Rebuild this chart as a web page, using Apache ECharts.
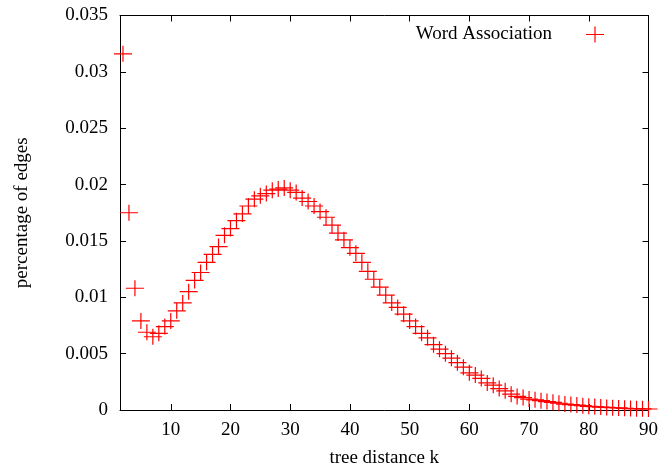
<!DOCTYPE html>
<html>
<head>
<meta charset="utf-8">
<script src="https://cdn.jsdelivr.net/npm/echarts@6/dist/echarts.min.js"></script>
<style>
html,body{margin:0;padding:0;background:#fff;}
#chart{width:661px;height:473px;}
</style>
</head>
<body>
<div id="chart"></div>
<script>
// tree distance k
const distances = [2,3,4,5,6,7,8,9,10,11,12,13,14,15,16,17,18,19,20,21,22,23,24,25,26,27,28,29,30,
  31,32,33,34,35,36,37,38,39,40,41,42,43,44,45,46,47,48,49,50,51,52,53,54,55,56,57,58,59,60,
  61,62,63,64,65,66,67,68,69,70,71,72,73,74,75,76,77,78,79,80,81,82,83,84,85,86,87,88,89,90];
// percentage of edges (Word Association)
const wordAssociation = [0.0316,0.0175,0.0108,0.0079,0.0069,0.0065,0.0068,0.0074,0.0079,0.0088,
  0.0095,0.0105,0.0115,0.0122,0.0131,0.0138,0.0145,0.0155,0.0161,0.0168,
  0.0174,0.0181,0.0187,0.0190,0.0192,0.0195,0.0196,0.0197,0.0195,0.0193,
  0.0188,0.0185,0.0181,0.0176,0.0171,0.0164,0.0157,0.0151,0.0144,0.0139,
  0.0131,0.0123,0.0116,0.0109,0.0102,0.0095,0.0091,0.0085,0.0079,0.0074,
  0.0068,0.0064,0.0058,0.0054,0.0050,0.0046,0.0042,0.0038,0.0033,0.0031,
  0.0028,0.0024,0.0022,0.0019,0.0017,0.0014,0.0012,0.0011,0.00097,0.0009,
  0.00083,0.00075,0.00068,0.0006,0.00053,0.00048,0.00044,0.00038,0.00033,0.0003,
  0.00026,0.00023,0.0002,0.00018,0.00015,0.00013,0.00012,0.0001,0.00009];
const xTicks = [10,20,30,40,50,60,70,80,90];
const seriesName = 'Word Association';

const chart = echarts.init(document.getElementById('chart'), null, {renderer:'canvas'});
const FONT = 'Liberation Serif';
const FS = 19;
const plus = 'path://M0,7.4H18V8.6H0Z M8.4,0H9.6V16H8.4Z';
const pts = distances.map((k,i)=>[k, wordAssociation[i]]);

const xBase = {
  type:'value', min:1.5, max:90,
  splitLine:{show:false},
  axisLine:{show:true, onZero:false, lineStyle:{color:'#000', width:1}},
  axisTick:{show:true, inside:true, length:6, customValues:xTicks, lineStyle:{color:'#000'}},
};
const yBase = {
  type:'value', min:0, max:0.035, interval:0.005,
  splitLine:{show:false},
  axisLine:{show:true, onZero:false, lineStyle:{color:'#000', width:1}},
  axisTick:{show:true, inside:true, length:6, lineStyle:{color:'#000'}},
};

chart.setOption({
  animation:false,
  backgroundColor:'#fff',
  grid:{left:120, right:11.5, top:15.5, bottom:60.5, containLabel:false},
  xAxis:[
    Object.assign({}, xBase, {
      position:'bottom',
      name:'tree distance k', nameLocation:'middle', nameGap:39,
      nameTextStyle:{fontFamily:FONT, fontSize:FS, color:'#000'},
      axisLabel:{show:true, customValues:xTicks, margin:11, fontFamily:FONT, fontSize:FS, color:'#000'}
    }),
    Object.assign({}, xBase, {position:'top', axisLabel:{show:false}})
  ],
  yAxis:[
    Object.assign({}, yBase, {
      position:'left',
      name:'percentage of edges', nameLocation:'middle', nameGap:88, nameRotate:90,
      nameTextStyle:{fontFamily:FONT, fontSize:FS, color:'#000'},
      axisLabel:{show:true, margin:12, fontFamily:FONT, fontSize:FS, color:'#000',
        formatter:v=>String(+v.toFixed(3))}
    }),
    Object.assign({}, yBase, {position:'right', axisLabel:{show:false}})
  ],
  legend:{
    show:true, right:52, top:20, align:'right', orient:'horizontal',
    itemWidth:18, itemHeight:16,
    data:[{name:seriesName, icon:plus}],
    textStyle:{fontFamily:FONT, fontSize:FS, color:'#000', padding:[0,29,0,0]},
    itemStyle:{color:'#ff0000'}
  },
  series:[{
    name:seriesName, type:'scatter', xAxisIndex:0, yAxisIndex:0,
    data:pts, symbol:plus, symbolSize:[18,16], symbolKeepAspect:false,
    clip:false,
    itemStyle:{color:'#ff0000', opacity:1},
    emphasis:{disabled:true}
  }]
});
</script>
</body>
</html>
